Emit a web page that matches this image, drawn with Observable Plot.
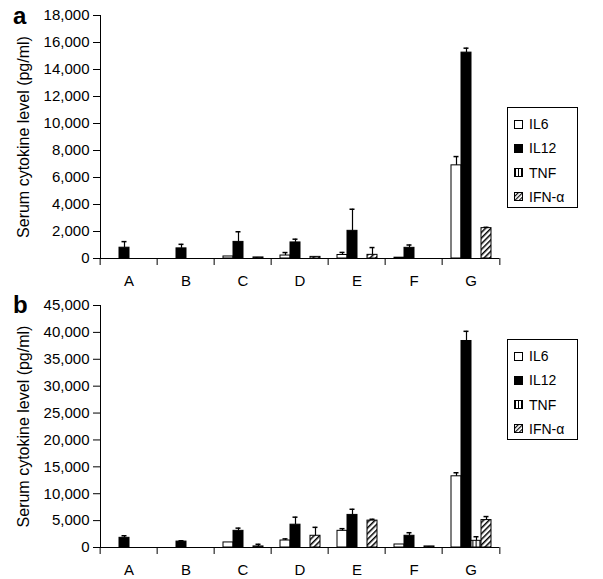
<!DOCTYPE html>
<html><head><meta charset="utf-8">
<script src="https://cdn.jsdelivr.net/npm/d3@7"></script>
<script src="https://cdn.jsdelivr.net/npm/@observablehq/plot@0.6"></script>
<style>
body{margin:0;background:#fff;}
#wrap{position:relative;width:603px;height:579px;font-family:"Liberation Sans",Arial,sans-serif;overflow:hidden;}
#wrap svg{display:block;}
.letter{position:absolute;font-weight:bold;font-size:24px;line-height:24px;}
.legend{position:absolute;border:1px solid #000;box-sizing:border-box;background:#fff;}
.legend .item{position:absolute;left:6px;height:16px;display:flex;align-items:center;font-size:14px;white-space:nowrap;}
.legend .item svg{margin-right:6px;}
</style></head><body><div id="wrap"></div>
<script>
const categories = ["A","B","C","D","E","F","G"];
const cytokines = ["IL6","IL12","TNF","IFN-α"];

// Panel a (pg/ml)
const aIL6     = [0, 0, 150, 220, 260, 60, 6900];
const aIL6Err  = [0, 0, 0, 220, 190, 0, 650];
const aIL12    = [800, 750, 1230, 1190, 2050, 790, 15250];
const aIL12Err = [450, 300, 750, 240, 1600, 210, 330];
const aTNF     = [0, 0, 0, 0, 0, 0, 0];
const aTNFErr  = [0, 0, 0, 0, 0, 0, 0];
const aIFN     = [0, 0, 80, 120, 270, 0, 2250];
const aIFNErr  = [0, 0, 0, 0, 540, 0, 60];
const aTicks   = [0, 2000, 4000, 6000, 8000, 10000, 12000, 14000, 16000, 18000];

// Panel b (pg/ml)
const bIL6     = [0, 0, 940, 1300, 3100, 560, 13240];
const bIL6Err  = [0, 0, 0, 300, 400, 0, 660];
const bIL12    = [1800, 1100, 3100, 4240, 6060, 2180, 38400];
const bIL12Err = [380, 150, 500, 1400, 1050, 570, 1800];
const bTNF     = [0, 0, 0, 0, 0, 0, 1240];
const bTNFErr  = [0, 0, 0, 0, 0, 0, 760];
const bIFN     = [0, 0, 200, 2180, 5000, 200, 5100];
const bIFNErr  = [0, 0, 400, 1570, 250, 0, 650];
const bTicks   = [0, 5000, 10000, 15000, 20000, 25000, 30000, 35000, 40000, 45000];

const yLabel = "Serum cytokine level (pg/ml)";

function rowsOf(series) {
  const rows = [];
  series.forEach(([vals, errs], k) => {
    categories.forEach((c, i) => rows.push({cat: c, cyt: cytokines[k], value: vals[i], err: errs[i]}));
  });
  return rows;
}

function addPatterns(svgEl, id) {
  const defs = d3.select(svgEl).insert("defs", ":first-child");
  const p1 = defs.append("pattern").attr("id", "tnf-" + id).attr("patternUnits", "userSpaceOnUse")
    .attr("width", 3.5).attr("height", 4);
  p1.append("rect").attr("width", 3.5).attr("height", 4).attr("fill", "white");
  p1.append("line").attr("x1", 1.75).attr("x2", 1.75).attr("y1", 0).attr("y2", 4)
    .attr("stroke", "black").attr("stroke-width", 1.1);
  const p2 = defs.append("pattern").attr("id", "ifn-" + id).attr("patternUnits", "userSpaceOnUse")
    .attr("width", 4).attr("height", 4).attr("patternTransform", "rotate(45)");
  p2.append("rect").attr("width", 4).attr("height", 4).attr("fill", "white");
  p2.append("line").attr("x1", 0.75).attr("x2", 0.75).attr("y1", 0).attr("y2", 4)
    .attr("stroke", "black").attr("stroke-width", 1.5);
}

function panel(id, series, ticks, height, marginTop) {
  const rows = rowsOf(series);
  const bars = rows.filter(d => d.value > 0);
  const errs = rows.filter(d => d.err > 0);
  const W = 603, ML = 97, MR = 102;
  const step = (W - ML - MR) / categories.length;
  const svg = Plot.plot({
    width: W, height, marginLeft: ML, marginRight: MR, marginTop, marginBottom: 32,
    style: {fontFamily: '"Liberation Sans", Arial, sans-serif', fontSize: "15px", color: "black", background: "white"},
    fx: {domain: categories, padding: 0, label: null},
    x: {domain: cytokines, paddingInner: 0, paddingOuter: 0.62, axis: null},
    y: {domain: [ticks[0], ticks[ticks.length - 1]], ticks, tickFormat: d3.format(","), tickSize: 7, tickPadding: 4,
        line: true, label: yLabel, labelAnchor: "center", labelArrow: false, labelOffset: 83},
    color: {domain: cytokines, range: ["white", "black", "url(#tnf-" + id + ")", "url(#ifn-" + id + ")"]},
    marks: [
      Plot.barY(bars, {fx: "cat", x: "cyt", y: "value", fill: "cyt", stroke: "black", strokeWidth: 1}),
      Plot.ruleX(errs, {fx: "cat", x: "cyt", y1: "value", y2: d => d.value + d.err, stroke: "black", strokeWidth: 1.2}),
      Plot.tickY(errs, {fx: "cat", x: "cyt", y: d => d.value + d.err, insetLeft: 2.5, insetRight: 2.5, stroke: "black", strokeWidth: 1.5}),
      Plot.ruleY([0], {stroke: "black", strokeWidth: 1.2}),
      Plot.axisFx({anchor: "bottom", tickSize: 0, tickPadding: 17, label: null}),
      Plot.axisFx({anchor: "bottom", tickSize: 7, tickFormat: () => "", dx: -step / 2, label: null}),
      Plot.axisFx({anchor: "bottom", ticks: ["G"], tickSize: 7, tickFormat: () => "", dx: step / 2, label: null})
    ]
  });
  addPatterns(svg, id);
  d3.select(svg).selectAll('g[aria-label="y-axis label"]').attr("font-size", "16px");
  return svg;
}

function legend(id, left, top) {
  const div = document.createElement("div");
  div.className = "legend";
  Object.assign(div.style, {left: left + "px", top: top + "px", width: "71px", height: "101px"});
  cytokines.forEach((c, k) => {
    const it = document.createElement("div");
    it.className = "item";
    it.style.top = (8 + k * 24.3) + "px";
    it.innerHTML = `<svg width="9" height="9"><defs>
      <pattern id="ltnf-${id}" patternUnits="userSpaceOnUse" width="3" height="4"><rect width="3" height="4" fill="white"/><line x1="1.5" x2="1.5" y1="0" y2="4" stroke="black" stroke-width="1"/></pattern>
      <pattern id="lifn-${id}" patternUnits="userSpaceOnUse" width="3" height="3" patternTransform="rotate(45)"><rect width="3" height="3" fill="white"/><line x1="0.6" x2="0.6" y1="0" y2="3" stroke="black" stroke-width="1.1"/></pattern>
      </defs><rect class="sw" x="0.5" y="0.5" width="8" height="8" stroke="black" stroke-width="1"/></svg><span>${c}</span>`;
    const fill = ["white", "black", `url(#ltnf-${id})`, `url(#lifn-${id})`][k];
    it.querySelector("rect.sw").setAttribute("fill", fill);
    div.appendChild(it);
  });
  return div;
}

const wrap = document.getElementById("wrap");
const svgA = panel("a", [[aIL6, aIL6Err], [aIL12, aIL12Err], [aTNF, aTNFErr], [aIFN, aIFNErr]], aTicks, 290, 15);
const svgB = panel("b", [[bIL6, bIL6Err], [bIL12, bIL12Err], [bTNF, bTNFErr], [bIFN, bIFNErr]], bTicks, 289, 15);
wrap.appendChild(svgA);
wrap.appendChild(svgB);

const la = document.createElement("div"); la.className = "letter"; la.textContent = "a";
Object.assign(la.style, {left: "13px", top: "4px"});
const lb = document.createElement("div"); lb.className = "letter"; lb.textContent = "b";
Object.assign(lb.style, {left: "13px", top: "293px"});
wrap.appendChild(la); wrap.appendChild(lb);
wrap.appendChild(legend("a", 507, 107));
wrap.appendChild(legend("b", 507, 339));
</script></body></html>
